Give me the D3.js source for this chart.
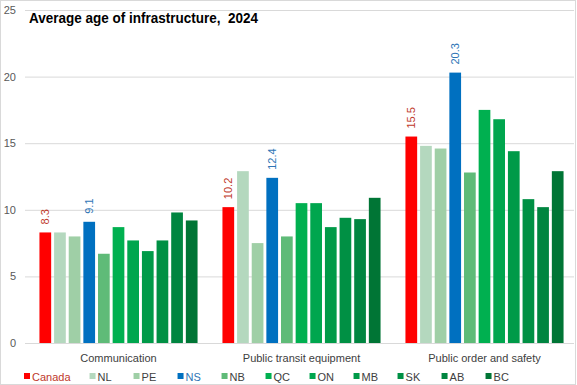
<!DOCTYPE html>
<html>
<head>
<meta charset="utf-8">
<script src="https://cdn.jsdelivr.net/npm/d3@7"></script>
<style>
  body { margin: 0; background: #fff; }
  svg { display: block; font-family: "Liberation Sans", Arial, sans-serif; }
</style>
</head>
<body>
<div id="chart"></div>
<script>
// data
const categories = ["Communication", "Public transit equipment", "Public order and safety"];
const regions = ["Canada", "NL", "PE", "NS", "NB", "QC", "ON", "MB", "SK", "AB", "BC"];
const communication = [8.3, 8.3, 8.0, 9.1, 6.7, 8.7, 7.7, 6.9, 7.7, 9.8, 9.2];
const transit = [10.2, 12.9, 7.5, 12.4, 8.0, 10.5, 10.5, 8.7, 9.4, 9.3, 10.9];
const orderSafety = [15.5, 14.8, 14.6, 20.3, 12.8, 17.5, 16.8, 14.4, 10.8, 10.2, 12.9];
const yTicks = [0, 5, 10, 15, 20, 25];
const labelled = ["Canada", "NS"];

const colors = ["#ff0000", "#b4d8be", "#9fcfa6", "#0070c0", "#5fbb78", "#00b050",
                "#00a64e", "#009a48", "#009044", "#008540", "#007535"];
const labelColors = { Canada: "#c0392b", NS: "#2e75b6" };

const series = [communication, transit, orderSafety];

const width = 577, height = 385;
const margin = { top: 10, right: 1, bottom: 42, left: 27 };

const svg = d3.select("#chart").append("svg")
  .attr("width", width)
  .attr("height", height);

// outer frame
svg.append("rect")
  .attr("x", 0.5).attr("y", 0.5)
  .attr("width", width - 2).attr("height", height - 1)
  .attr("fill", "#fff")
  .attr("stroke", "#d9d9d9");

const x0 = d3.scaleBand()
  .domain(categories)
  .range([margin.left, width - margin.right])
  .paddingInner(0.12)
  .paddingOuter(0.06);

const x1 = d3.scaleBand()
  .domain(regions)
  .range([0, x0.bandwidth()])
  .paddingInner(0.2)
  .paddingOuter(0.1);

const y = d3.scaleLinear()
  .domain([0, 25])
  .range([height - margin.bottom, margin.top]);

const color = d3.scaleOrdinal().domain(regions).range(colors);

// gridlines + y labels
const yAxis = svg.append("g")
  .attr("transform", `translate(${margin.left - 2},0)`)
  .call(d3.axisLeft(y).tickValues(yTicks).tickSize(-(width - margin.left - 1)).tickPadding(9));
yAxis.select(".domain").remove();
yAxis.selectAll(".tick line").attr("stroke", "#d9d9d9");
yAxis.selectAll(".tick text")
  .attr("fill", "#595959")
  .style("font-family", "Liberation Sans, Arial, sans-serif")
  .style("font-size", "11px");

// bars
const groups = svg.append("g").selectAll("g")
  .data(categories)
  .join("g")
  .attr("transform", d => `translate(${x0(d)},0)`);

groups.selectAll("rect")
  .data((d, i) => regions.map((r, j) => ({ region: r, value: series[i][j] })))
  .join("rect")
  .attr("x", d => x1(d.region))
  .attr("y", d => y(d.value))
  .attr("width", x1.bandwidth())
  .attr("height", d => y(0) - y(d.value))
  .attr("fill", d => color(d.region));

// value labels (Canada and NS only)
groups.selectAll("text.val")
  .data((d, i) => regions.map((r, j) => ({ region: r, value: series[i][j] }))
    .filter(d => labelled.includes(d.region)))
  .join("text")
  .attr("class", "val")
  .attr("transform", d => `translate(${x1(d.region) + x1.bandwidth() / 2 + 4},${y(d.value) - 8}) rotate(-90)`)
  .attr("fill", d => labelColors[d.region])
  .style("font-family", "Liberation Sans, Arial, sans-serif")
  .style("font-size", "11px")
  .text(d => d.value.toFixed(1));

// category labels
svg.append("g").selectAll("text")
  .data(categories)
  .join("text")
  .attr("x", d => x0(d) + x0.bandwidth() / 2)
  .attr("y", height - margin.bottom + 19)
  .attr("text-anchor", "middle")
  .attr("fill", "#404040")
  .style("font-family", "Liberation Sans, Arial, sans-serif")
  .style("font-size", "11px")
  .text(d => d);

// title (narrow bold look, squeezed to the reference width)
svg.append("text")
  .attr("x", 29)
  .attr("y", 23)
  .attr("fill", "#000")
  .attr("textLength", 229)
  .attr("lengthAdjust", "spacingAndGlyphs")
  .style("white-space", "pre")
  .style("font-weight", "bold")
  .style("font-size", "15px")
  .text("Average age of infrastructure,  2024");

// legend
const legend = svg.append("g");
let lx = 24;
regions.forEach(r => {
  const g = legend.append("g").attr("transform", `translate(${lx},0)`);
  g.append("rect")
    .attr("x", 0).attr("y", 373)
    .attr("width", 6).attr("height", 6)
    .attr("fill", color(r));
  const t = g.append("text")
    .attr("x", 8).attr("y", 381)
    .attr("fill", labelColors[r] || "#404040")
    .style("font-family", "Liberation Sans, Arial, sans-serif")
    .style("font-size", "11px")
    .text(r);
  const w = t.node().getComputedTextLength();
  lx += Math.max(44, 8 + w + 19);
});
</script>
</body>
</html>
